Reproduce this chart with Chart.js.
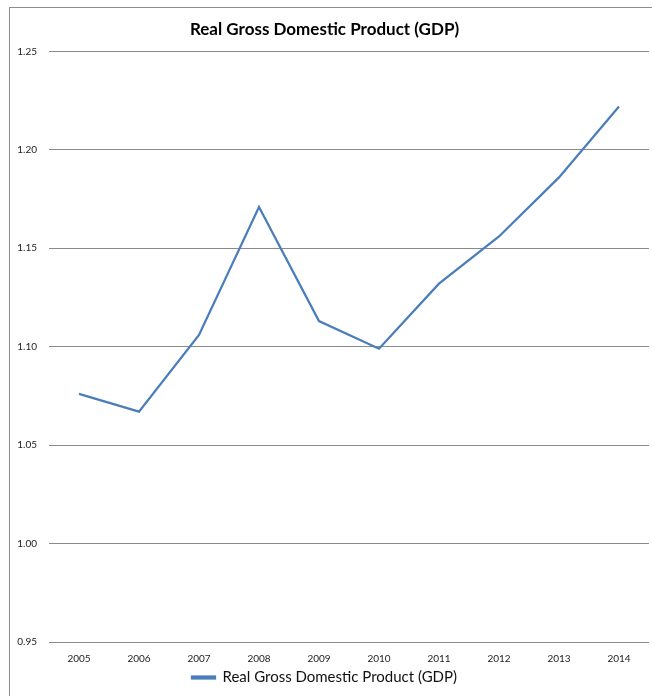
<!DOCTYPE html>
<html>
<head>
<meta charset="utf-8">
<script src="https://cdn.jsdelivr.net/npm/chart.js@4.4.0/dist/chart.umd.min.js"></script>
<style>
  body { margin: 0; background: #fff; }
  #frame {
    position: absolute; left: 9px; top: 7px; width: 700px; height: 700px;
    border-left: 1px solid #8c8c8c; border-top: 1px solid #8c8c8c;
  }
  #wrap { position: absolute; left: 0; top: 0; width: 652px; height: 696px; }
</style>
</head>
<body>
<div id="frame"></div>
<div id="wrap"><canvas id="gdpChart"></canvas></div>
<script>
// Chart data
const years = ['2005', '2006', '2007', '2008', '2009', '2010', '2011', '2012', '2013', '2014'];
const realGdp = [1.076, 1.067, 1.106, 1.171, 1.113, 1.099, 1.132, 1.156, 1.186, 1.222];
const seriesName = 'Real Gross Domestic Product (GDP)';

const blue = '#4a7ebb';
const fontFamily = 'Lato, "Open Sans", sans-serif';

const ctx = document.getElementById('gdpChart').getContext('2d');
let gdpChart = new Chart(ctx, {
  type: 'line',
  data: {
    labels: years,
    datasets: [{
      label: seriesName,
      data: realGdp,
      borderColor: blue,
      backgroundColor: blue,
      borderWidth: 2.25,
      pointRadius: 0,
      tension: 0,
      fill: false
    }]
  },
  options: {
    responsive: true,
    maintainAspectRatio: false,
    animation: false,
    layout: { padding: { left: 0, right: 3, top: 0, bottom: 1 } },
    plugins: {
      title: {
        display: true,
        text: seriesName,
        color: '#000',
        font: { family: fontFamily, size: 17, weight: 'bold' },
        padding: { top: 19, bottom: 12 }
      },
      legend: {
        position: 'bottom',
        labels: {
          color: '#111',
          font: { family: fontFamily, size: 15 },
          boxWidth: 23,
          boxHeight: 2,
          padding: 2
        }
      },
      tooltip: { enabled: false }
    },
    scales: {
      x: {
        offset: true,
        grid: { display: false },
        border: { display: false },
        ticks: {
          color: '#222',
          font: { family: fontFamily, size: 10 },
          padding: 3,
          maxRotation: 0
        }
      },
      y: {
        min: 0.95,
        max: 1.25,
        grid: { color: '#8a8a8a', lineWidth: 1, drawTicks: false },
        border: { display: false },
        ticks: {
          stepSize: 0.05,
          color: '#222',
          font: { family: fontFamily, size: 10 },
          padding: 12,
          callback: v => v.toFixed(2)
        },
        afterFit: scale => { scale.width = 49; }
      }
    }
  }
});
</script>
</body>
</html>
